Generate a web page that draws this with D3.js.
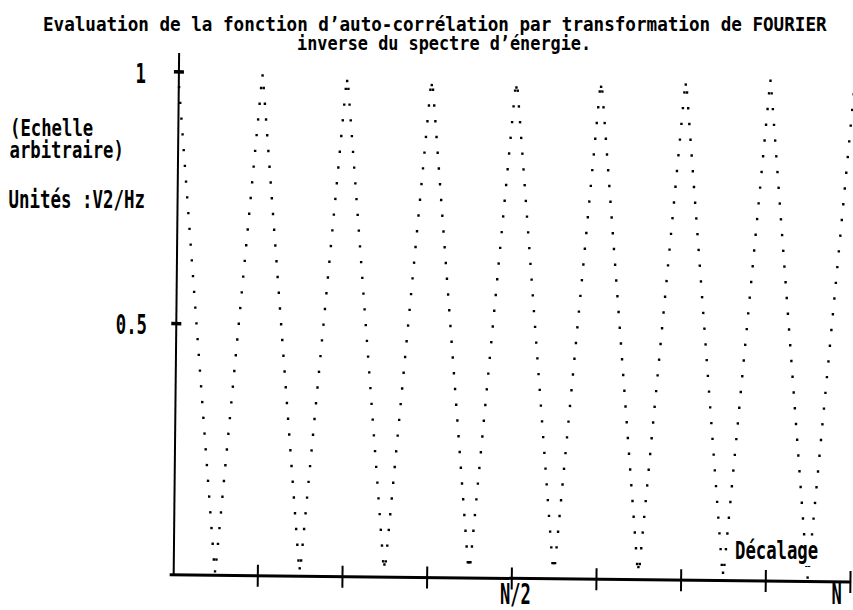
<!DOCTYPE html>
<html>
<head>
<meta charset="utf-8">
<script src="https://cdn.jsdelivr.net/npm/d3@7"></script>
<style>
  body { margin: 0; background: #fff; }
  svg { display: block; }
  text { font-family: "DejaVu Sans Mono", monospace; font-weight: bold; fill: #000; }
</style>
</head>
<body>
<div id="chart"></div>
<script>
const N = 512;                                   // number of lags
const xTicks = [64, 128, 192, 256, 320, 384, 448, 512];
const yTicks = [0.5, 1];
const titleLines = [
  "Evaluation de la fonction d’auto-corrélation par transformation de FOURIER",
  "inverse du spectre d’énergie."
];

// auto-correlation, one value per lag 0..N, in units of 1/32
const acLevels = [
  32,31,30,29,28,27,26,25,24,23,22,21,20,19,18,17,16,15,14,13,12,11,10,9,8,7,6,5,4,3,2,1,0.25,1,2,3,4,5,6,7,8,9,10,11,12,13,14,15,16,17,18,19,20,21,22,23,24,25,26,27,28,29,30,31,
  31.8,31,30,29,28,27,26,25,24,23,22,21,20,19,18,17,16,15,14,13,12,11,10,9,8,7,6,5,4,3,2,1,0.5,1,2,3,4,5,6,7,8,9,10,11,12,13,14,15,16,17,18,19,20,21,22,23,24,25,26,27,28,29,30,31,
  31.5,31,30,29,28,27,26,25,24,23,22,21,20,19,18,17,16,15,14,13,12,11,10,9,8,7,6,5,4,3,2,1,0.8,1,2,3,4,5,6,7,8,9,10,11,12,13,14,15,16,17,18,19,20,21,22,23,24,25,26,27,28,29,30,31,
  31.3,31,30,29,28,27,26,25,24,23,22,21,20,19,18,17,16,15,14,13,12,11,10,9,8,7,6,5,4,3,2,1,1,1,2,3,4,5,6,7,8,9,10,11,12,13,14,15,16,17,18,19,20,21,22,23,24,25,26,27,28,29,30,31,
  31.2,31,30,29,28,27,26,25,24,23,22,21,20,19,18,17,16,15,14,13,12,11,10,9,8,7,6,5,4,3,2,1,1,1,2,3,4,5,6,7,8,9,10,11,12,13,14,15,16,17,18,19,20,21,22,23,24,25,26,27,28,29,30,31,
  31.3,31,30,29,28,27,26,25,24,23,22,21,20,19,18,17,16,15,14,13,12,11,10,9,8,7,6,5,4,3,2,1,0.8,1,2,3,4,5,6,7,8,9,10,11,12,13,14,15,16,17,18,19,20,21,22,23,24,25,26,27,28,29,30,31,
  31.5,31,30,29,28,27,26,25,24,23,22,21,20,19,18,17,16,15,14,13,12,11,10,9,8,7,6,5,4,3,2,1,0.5,1,2,3,4,5,6,7,8,9,10,11,12,13,14,15,16,17,18,19,20,21,22,23,24,25,26,27,28,29,30,31,
  31.8,31,30,29,28,27,26,25,24,23,22,21,20,19,18,17,16,15,14,13,12,11,10,9,8,7,6,5,4,3,2,1,0.25,1,2,3,4,5,6,7,8,9,10,11,12,13,14,15,16,17,18,19,20,21,22,23,24,25,26,27,28,29,30,31,
  32
];

/* ---------- Chart ---------- */
const W = 853, H = 610;
const svg = d3.select("#chart").append("svg")
  .attr("width", W).attr("height", H);

const x = d3.scaleLinear().domain([0, N]).range([175.5, 852.8]);
const y = d3.scaleLinear().domain([0, 1]).range([577.5, 74]);

// the scanned plot is very slightly tilted
const plot = svg.append("g").attr("transform", "rotate(0.6,426,305)");

// dots
plot.append("g")
  .selectAll("rect")
  .data(acLevels)
  .join("rect")
    .attr("x", (d, i) => x(i) - 1.2)
    .attr("y", d => y(d / 32) - 1.2)
    .attr("width", 2.4)
    .attr("height", 2.4)
    .attr("fill", "#000");

// x axis (ticks cross the line)
const xAxis = plot.append("g")
  .attr("transform", `translate(0,${y(0)})`)
  .call(d3.axisBottom(x).tickValues(xTicks).tickFormat("").tickSizeOuter(0));
xAxis.select(".domain")
  .attr("d", `M${x(0) - 3},0H${x(N)}`)
  .attr("stroke", "#000").attr("stroke-width", 3);
xAxis.selectAll(".tick line")
  .attr("y1", -11).attr("y2", 11)
  .attr("stroke", "#000").attr("stroke-width", 2);

// y axis
const yAxis = plot.append("g")
  .attr("transform", `translate(${x(0) + 1},0)`)
  .call(d3.axisLeft(y).tickValues(yTicks).tickFormat("").tickSizeOuter(0));
yAxis.select(".domain")
  .attr("d", `M0,55.6V${y(0)}`)
  .attr("stroke", "#000").attr("stroke-width", 2);
yAxis.selectAll(".tick line")
  .attr("x1", -5).attr("x2", 5)
  .attr("stroke", "#000").attr("stroke-width", 3.5);

/* ---------- Texts ---------- */
// printer font: monospace cells of charW px, tall glyphs of capH px
function label(str, x0, y0, charW, capH, anchor = "start") {
  const fs = charW / 0.602;
  const sy = capH / (0.729 * fs);
  return svg.append("text")
    .attr("transform", `translate(${x0},${y0}) scale(1,${sy.toFixed(3)})`)
    .attr("font-size", fs.toFixed(2))
    .attr("text-anchor", anchor)
    .text(str);
}

label(titleLines[0], 43, 31, 10.6, 14.5);
label(titleLines[1], 297, 50, 10.15, 14.5);

label("(Echelle", 10, 135.5, 10.4, 16.5);
label("arbitraire)", 9.5, 157.5, 10.4, 16.5);
label("Unités :V2/Hz", 8.5, 207.5, 10.5, 18.5);

label("1", 146, 83, 10.4, 20, "end");
label("0.5", 147, 333.5, 10.4, 20, "end");

label("N/2", 500, 603.5, 10.3, 20.5);
label("N", 831.5, 603.5, 10.3, 20.5);

// the axis name is printed over a blank box, hiding the dots under it
svg.append("rect")
  .attr("x", 733).attr("y", 538).attr("width", 88).attr("height", 28)
  .attr("fill", "#fff");
label("Décalage", 735, 559, 10.4, 17.5);
</script>
</body>
</html>
